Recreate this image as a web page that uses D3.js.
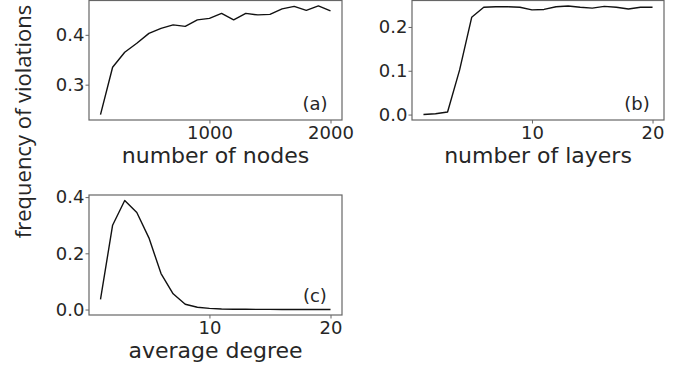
<!DOCTYPE html>
<html>
<head>
<meta charset="utf-8">
<script src="https://cdn.jsdelivr.net/npm/d3@7.9.0/dist/d3.min.js"></script>
<style>
  body { margin: 0; background: #fff; }
  svg { display: block; }
  .tick text { font-family: "DejaVu Sans", sans-serif; font-size: 18px; fill: #262626; }
  .tick line { stroke: #666; stroke-width: 1; }
  .xlabel { font-family: "DejaVu Sans", sans-serif; font-size: 22px; fill: #262626; }
  .panel-tag { font-family: "DejaVu Sans", sans-serif; font-size: 18px; fill: #262626; }
</style>
</head>
<body>
<svg id="chart" width="688" height="368"></svg>
<script>
// (a) number of nodes
const nodes = [100, 200, 300, 400, 500, 600, 700, 800, 900, 1000,
  1100, 1200, 1300, 1400, 1500, 1600, 1700, 1800, 1900, 2000];
const nodesFreq = [0.240, 0.335, 0.365, 0.383, 0.403, 0.413, 0.420, 0.417, 0.430, 0.433,
  0.443, 0.430, 0.443, 0.440, 0.441, 0.452, 0.457, 0.449, 0.458, 0.448];

// (b) number of layers
const layers = d3.range(1, 21);
const layersFreq = [0.000, 0.002, 0.006, 0.102, 0.222, 0.245, 0.246, 0.246, 0.245, 0.239,
  0.240, 0.246, 0.248, 0.245, 0.243, 0.247, 0.245, 0.241, 0.245, 0.245];

// (c) average degree
const degree = d3.range(1, 21);
const degreeFreq = [0.036, 0.300, 0.388, 0.345, 0.255, 0.128, 0.056, 0.019, 0.008, 0.004,
  0.002, 0.001, 0.001, 0.0005, 0.0005, 0, 0, 0, 0, 0];

const panels = [
  { x: nodes, y: nodesFreq, xTicks: [1000, 2000], yTicks: [0.3, 0.4], tag: '(a)',
    label: 'number of nodes', box: [89, 0.5, 342, 120], tagLift: 10 },
  { x: layers, y: layersFreq, xTicks: [10, 20], yTicks: [0, 0.1, 0.2], tag: '(b)',
    label: 'number of layers', box: [412, 0.5, 664, 120], tagLift: 10 },
  { x: degree, y: degreeFreq, xTicks: [10, 20], yTicks: [0, 0.2, 0.4], tag: '(c)',
    label: 'average degree', box: [89, 195, 342, 315], tagLift: 13 }
];

const svg = d3.select('#chart');

// matplotlib-style 5% padding around the data
function padded(vals) {
  const [lo, hi] = d3.extent(vals);
  const m = (hi - lo) * 0.05;
  return [lo - m, hi + m];
}

panels.forEach(p => {
  const [x0, y0, x1, y1] = p.box;
  const x = d3.scaleLinear().domain(padded(p.x)).range([x0, x1]);
  const y = d3.scaleLinear().domain(padded(p.y)).range([y1, y0]);

  const xAxis = svg.append('g')
    .attr('transform', `translate(0,${y1})`)
    .call(d3.axisBottom(x).tickValues(p.xTicks).tickSize(3.5).tickPadding(3).tickFormat(d3.format('d')));
  xAxis.select('.domain').remove();

  const yAxis = svg.append('g')
    .attr('transform', `translate(${x0},0)`)
    .call(d3.axisLeft(y).tickValues(p.yTicks).tickSize(3.5).tickPadding(1).tickFormat(d3.format('.1f')));
  yAxis.select('.domain').remove();

  svg.append('rect')
    .attr('x', x0).attr('y', y0)
    .attr('width', x1 - x0).attr('height', y1 - y0)
    .attr('fill', 'none')
    .attr('stroke', '#666')
    .attr('stroke-width', 1.2);

  const line = d3.line().x((d, i) => x(p.x[i])).y(d => y(d));
  svg.append('path')
    .datum(p.y)
    .attr('d', line)
    .attr('fill', 'none')
    .attr('stroke', '#111')
    .attr('stroke-width', 1.4)
    .attr('stroke-linejoin', 'round');

  svg.append('text')
    .attr('class', 'panel-tag')
    .attr('x', x0 + (x1 - x0) * 0.893)
    .attr('y', y1 - p.tagLift)
    .attr('text-anchor', 'middle')
    .text(p.tag);

  svg.append('text')
    .attr('class', 'xlabel')
    .attr('x', (x0 + x1) / 2)
    .attr('y', y1 + 43)
    .attr('text-anchor', 'middle')
    .text(p.label);
});

svg.append('text')
  .attr('transform', 'translate(31,121.5) rotate(-90)')
  .attr('text-anchor', 'middle')
  .style('font-family', '"Open Sans", sans-serif')
  .style('font-size', '22px')
  .style('fill', '#262626')
  .text('frequency of violations');
</script>
</body>
</html>
